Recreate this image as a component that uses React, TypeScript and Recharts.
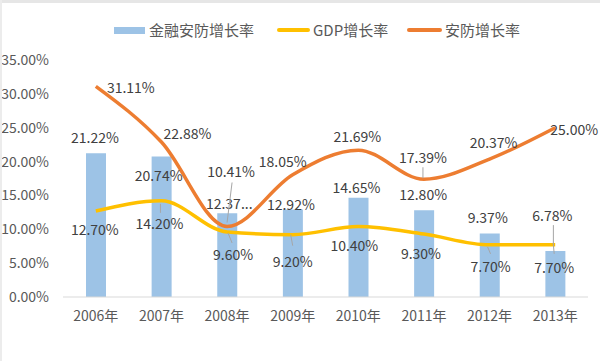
import { ComposedChart, Bar, Line, XAxis, YAxis, Legend, LabelList } from 'recharts';

const years = ['2006年', '2007年', '2008年', '2009年', '2010年', '2011年', '2012年', '2013年'];
const financeGrowth = [21.22, 20.74, 12.37, 12.92, 14.65, 12.8, 9.37, 6.78];
const financeLabels = ['21.22%', '20.74%', '12.37...', '12.92%', '14.65%', '12.80%', '9.37%', '6.78%'];
const gdpGrowth = [12.7, 14.2, 9.6, 9.2, 10.4, 9.3, 7.7, 7.7];
const securityGrowth = [31.11, 22.88, 10.41, 18.05, 21.69, 17.39, 20.37, 25.0];
const yTicks = [0, 5, 10, 15, 20, 25, 30, 35];

const data = years.map((y, i) => ({
    year: y,
    finance: financeGrowth[i],
    gdp: gdpGrowth[i],
    security: securityGrowth[i],
}));

const COLORS = {
    bar: '#9DC3E6',
    gdp: '#FFC000',
    security: '#ED7D31',
    text: '#404040',
    axis: '#595959',
    leader: '#A6A6A6',
};

const FONT = '"Noto Sans CJK SC", "Noto Sans", sans-serif';

// label placement (centre offset from the anchor point), copied from Excel's manual layout
const securityOffsets = [[35, 1], [26, -9], [4, -56], [-10, -14], [-1, -14], [-1, -22], [4, -17], [19, 1]];
const securityLeaders: (number[] | null)[] = [null, null, [5, -44, 0, -4], null, null, [-1, -12, -1, -1], null, null];
const gdpOffsets = [[-1, 18], [-2, 22], [6, 22], [0, 26], [-4, 18], [-3, 19], [1, 21], [-1, 22]];
const gdpLeaders: (number[] | null)[] = [null, [-1, 3, -1, 12], [1, 1, 5, 11], [-2, 0, 0, 11], null, null, [-2, 2, 1, 9], [-2, -2, -1, 9]];
const barOffsets = [[-1, -16], [-3, 18], [2, -10], [-2, -6], [-2, -11], [-1, -16], [-2, -17], [-3, -36]];
const barLeaders: (number[] | null)[] = [null, null, null, null, null, null, null, [-2, -26, -2, -7]];

function makeLabel(offsets: number[][], leaders: (number[] | null)[], isBar: boolean, texts?: string[]) {
    return (props: any) => {
        const { x, y, width, value, index } = props;
        const px = isBar ? x + width / 2 : x;
        const py = y;
        const [dx, dy] = offsets[index];
        const lead = leaders[index];
        const text = texts ? texts[index] : `${Number(value).toFixed(2)}%`;
        return (
            <g>
                {lead && (
                    <line
                        x1={px + lead[0]}
                        y1={py + lead[1]}
                        x2={px + lead[2]}
                        y2={py + lead[3]}
                        stroke={COLORS.leader}
                        strokeWidth={1}
                    />
                )}
                <text
                    x={px + dx}
                    y={py + dy}
                    textAnchor="middle"
                    dominantBaseline="central"
                    fill={COLORS.text}
                    fontSize={14}
                    fontFamily={FONT}
                >
                    {text}
                </text>
            </g>
        );
    };
}

const renderLegend = () => (
    <div style={{ position: 'relative', width: 600, height: 40, fontFamily: FONT, fontSize: 15, color: COLORS.axis }}>
        <div style={{ position: 'absolute', left: 114, top: 27, width: 31, height: 7, background: COLORS.bar }} />
        <span style={{ position: 'absolute', left: 149, top: 20, lineHeight: '20px' }}>金融安防增长率</span>
        <div style={{ position: 'absolute', left: 277, top: 28, width: 33, height: 4, borderRadius: 2, background: COLORS.gdp }} />
        <span style={{ position: 'absolute', left: 313, top: 20, lineHeight: '20px' }}>GDP增长率</span>
        <div style={{ position: 'absolute', left: 407, top: 28, width: 35, height: 4, borderRadius: 2, background: COLORS.security }} />
        <span style={{ position: 'absolute', left: 445, top: 20, lineHeight: '20px' }}>安防增长率</span>
    </div>
);

export default function App() {
    return (
        <div style={{ position: 'absolute', left: 0, top: 0, width: 600, height: 361, background: '#fff', overflow: 'hidden' }}>
            <ComposedChart
                width={600}
                height={361}
                data={data}
                margin={{ top: 20, right: 12, bottom: 34, left: 0 }}
                style={{ fontFamily: FONT }}
            >
                <XAxis
                    dataKey="year"
                    axisLine={{ stroke: '#D9D9D9' }}
                    tickLine={false}
                    tickSize={0}
                    tickMargin={14}
                    height={30}
                    tick={{ fill: COLORS.axis, fontSize: 14, fontFamily: FONT }}
                />
                <YAxis
                    domain={[0, 35]}
                    ticks={yTicks}
                    width={63}
                    axisLine={false}
                    tickLine={false}
                    tickSize={0}
                    tickMargin={14}
                    tickFormatter={(v: number) => `${v.toFixed(2)}%`}
                    tick={{ fill: COLORS.axis, fontSize: 14, fontFamily: FONT }}
                />
                <Legend content={renderLegend} verticalAlign="top" height={40} wrapperStyle={{ top: 0, left: 0, width: 600, height: 40 }} />
                <Bar dataKey="finance" name="金融安防增长率" fill={COLORS.bar} barSize={20} isAnimationActive={false}>
                    <LabelList dataKey="finance" content={makeLabel(barOffsets, barLeaders, true, financeLabels)} />
                </Bar>
                <Line
                    dataKey="gdp"
                    name="GDP增长率"
                    type="monotone"
                    stroke={COLORS.gdp}
                    strokeWidth={3.5}
                    dot={false}
                    activeDot={false}
                    isAnimationActive={false}
                >
                    <LabelList dataKey="gdp" content={makeLabel(gdpOffsets, gdpLeaders, false)} />
                </Line>
                <Line
                    dataKey="security"
                    name="安防增长率"
                    type="monotone"
                    stroke={COLORS.security}
                    strokeWidth={3.5}
                    dot={false}
                    activeDot={false}
                    isAnimationActive={false}
                >
                    <LabelList dataKey="security" content={makeLabel(securityOffsets, securityLeaders, false)} />
                </Line>
            </ComposedChart>
            <div style={{ position: 'absolute', left: 0, top: 0, width: 600, height: 3, background: '#E6E6E6' }} />
            <div style={{ position: 'absolute', left: 0, top: 0, width: 2, height: 361, background: '#ECECEC' }} />
        </div>
    );
}
